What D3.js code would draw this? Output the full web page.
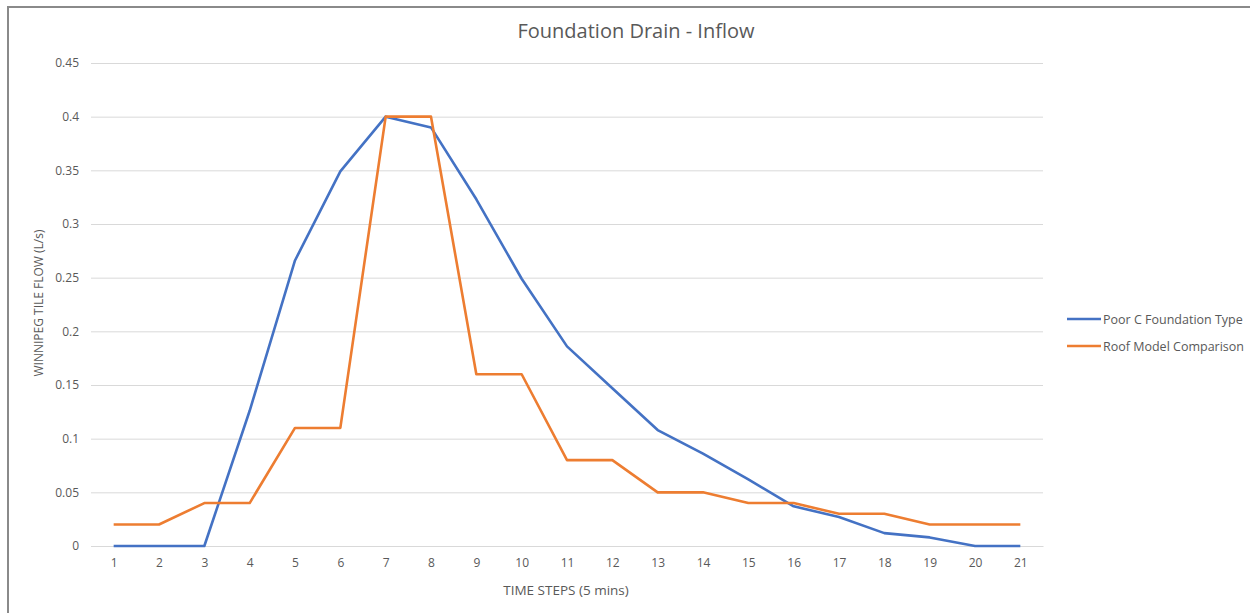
<!DOCTYPE html>
<html>
<head>
<meta charset="utf-8">
<script src="https://cdn.jsdelivr.net/npm/d3@7"></script>
<style>
  body { margin: 0; background: #fff; }
  svg { display: block; font-family: "Open Sans", "Liberation Sans", sans-serif; }
</style>
</head>
<body>
<svg id="chart" width="1250" height="613"></svg>
<script>
// data
var timeSteps = d3.range(1, 22);
var poorC = [0, 0, 0, 0.126, 0.266, 0.349, 0.4, 0.39, 0.323, 0.249, 0.186, 0.147, 0.108, 0.086, 0.062, 0.037, 0.027, 0.012, 0.008, 0, 0];
var roofModel = [0.02, 0.02, 0.04, 0.04, 0.11, 0.11, 0.4, 0.4, 0.16, 0.16, 0.08, 0.08, 0.05, 0.05, 0.04, 0.04, 0.03, 0.03, 0.02, 0.02, 0.02];
var yTicks = [0, 0.05, 0.1, 0.15, 0.2, 0.25, 0.3, 0.35, 0.4, 0.45];
var seriesNames = ["Poor C Foundation Type", "Roof Model Comparison"];
var seriesColors = ["#4472C4", "#ED7D31"];

var svg = d3.select("#chart");

// frame (top + left edge of the screenshot)
svg.append("line").attr("x1", 7).attr("x2", 1250).attr("y1", 7).attr("y2", 7)
    .attr("stroke", "#8a8a8a").attr("stroke-width", 2);
svg.append("line").attr("x1", 8).attr("x2", 8).attr("y1", 6).attr("y2", 613)
    .attr("stroke", "#8a8a8a").attr("stroke-width", 2);

var margin = {left: 91, right: 207, top: 63, bottom: 67};
var plotW = 1250 - margin.left - margin.right,
    plotH = 613 - margin.top - margin.bottom;

var g = svg.append("g")
    .attr("transform", "translate(" + margin.left + "," + margin.top + ")");

var x = d3.scalePoint()
    .domain(timeSteps)
    .range([0, plotW])
    .padding(0.5);

var y = d3.scaleLinear()
    .domain([0, 0.45])
    .range([plotH, 0]);

// gridlines
var grid = d3.axisLeft(y)
    .tickValues(yTicks)
    .tickFormat("")
    .tickSize(-plotW);
g.append("g")
    .attr("class", "grid")
    .call(grid)
    .call(function(s) {
        s.select(".domain").remove();
        s.selectAll("line").attr("stroke", "#d9d9d9").attr("stroke-width", 1);
    });

// y axis labels
g.append("g")
    .call(d3.axisLeft(y).tickValues(yTicks).tickSize(0).tickPadding(12)
        .tickFormat(function(d) { return d === 0 ? "0" : String(+d.toFixed(2)); }))
    .call(function(s) {
        s.select(".domain").remove();
        s.selectAll("text").attr("fill", "#595959").style("font-size", "12px")
            .style("font-family", "'Open Sans', sans-serif");
    });

// x axis
g.append("g")
    .attr("transform", "translate(0," + plotH + ")")
    .call(d3.axisBottom(x).tickSize(0).tickPadding(12))
    .call(function(s) {
        s.select(".domain").attr("stroke", "#d9d9d9");
        s.selectAll("text").attr("fill", "#595959").style("font-size", "12px")
            .style("font-family", "'Open Sans', sans-serif");
    });

// lines
var line = d3.line()
    .x(function(d, i) { return x(timeSteps[i]); })
    .y(function(d) { return y(d); });

[poorC, roofModel].forEach(function(vals, i) {
    g.append("path")
        .datum(vals)
        .attr("fill", "none")
        .attr("stroke", seriesColors[i])
        .attr("stroke-width", 2.6)
        .attr("stroke-linejoin", "round")
        .attr("d", line);
});

// title
svg.append("text")
    .attr("x", 636).attr("y", 38)
    .attr("text-anchor", "middle")
    .attr("fill", "#595959")
    .style("font-size", "20px")
    .text("Foundation Drain - Inflow");

// axis titles
svg.append("text")
    .attr("x", 566).attr("y", 595)
    .attr("text-anchor", "middle")
    .attr("fill", "#595959")
    .style("font-size", "13.5px")
    .text("TIME STEPS (5 mins)");

svg.append("text")
    .attr("transform", "translate(43," + 303 + ") rotate(-90)")
    .attr("text-anchor", "middle")
    .attr("fill", "#595959")
    .style("font-size", "12px")
    .text("WINNIPEG TILE FLOW (L/s)");

// legend
var legend = svg.append("g").attr("transform", "translate(1067,319)");
seriesNames.forEach(function(name, i) {
    var row = legend.append("g").attr("transform", "translate(0," + (i * 27) + ")");
    row.append("line").attr("x1", 0).attr("x2", 34).attr("y1", 0).attr("y2", 0)
        .attr("stroke", seriesColors[i]).attr("stroke-width", 2.6);
    row.append("text").attr("x", 36).attr("y", 4.5)
        .attr("fill", "#595959").style("font-size", "12.5px")
        .text(name);
});
</script>
</body>
</html>
